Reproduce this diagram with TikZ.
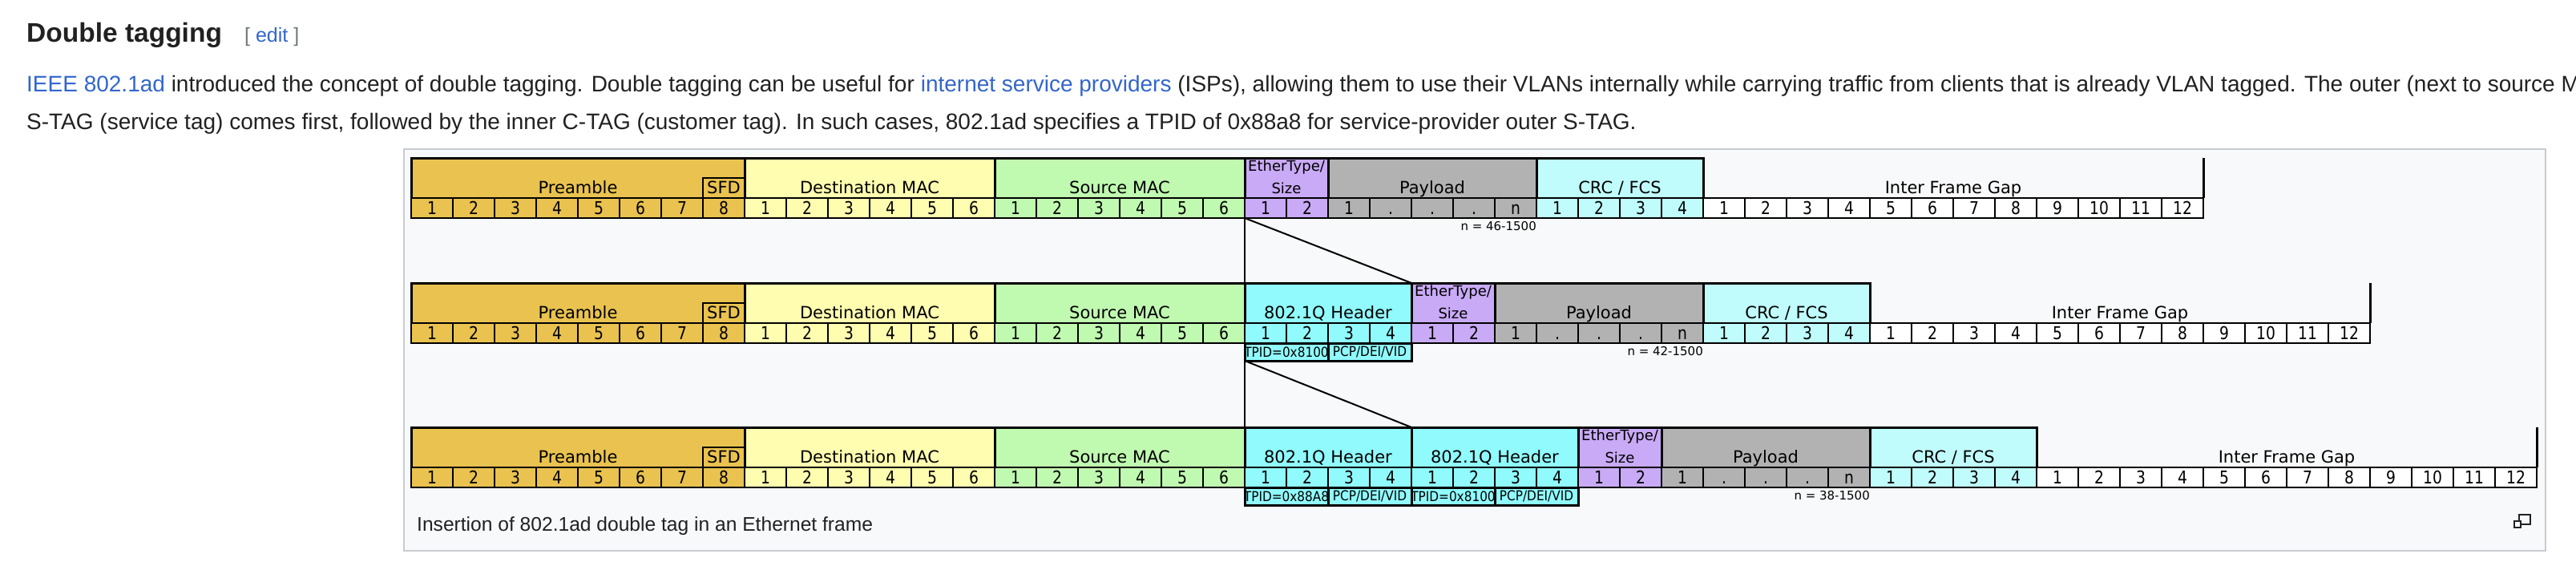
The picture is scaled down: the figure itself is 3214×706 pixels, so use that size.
\documentclass[tikz,border=0pt]{standalone}
\usepackage{fontspec}
\setmainfont{Liberation Sans}
\newfontfamily\dv{DejaVu Sans}
\definecolor{txt}{HTML}{202122}
\definecolor{link}{HTML}{3366CC}
\definecolor{brk}{HTML}{72777D}
\definecolor{framebg}{HTML}{F8F9FA}
\definecolor{frameln}{HTML}{C8CCD1}
\definecolor{precol}{HTML}{E9C24F}
\definecolor{dstcol}{HTML}{FFFDB0}
\definecolor{srccol}{HTML}{C0F9B0}
\definecolor{ethcol}{HTML}{C9AAF6}
\definecolor{paycol}{HTML}{B2B2B2}
\definecolor{crccol}{HTML}{C0FCFC}
\definecolor{qcol}{HTML}{90FAFC}
\newcommand\nd[1]{\scalebox{0.85}[1]{#1}}
\tikzset{
  hbox/.style={draw=black, line width=3pt, minimum height=50pt, inner sep=0pt, outer sep=0pt, anchor=north west},
  dbox/.style={draw=black, line width=2.5pt, minimum width=52pt, minimum height=25pt, inner sep=0pt, outer sep=0pt, anchor=north west, text height=16pt, text depth=0pt, font=\dv\fontsize{22}{22}\selectfont},
  lbl/.style={font=\dv\fontsize{21}{21}\selectfont, anchor=base, inner sep=0pt},
  elbl/.style={font=\dv\fontsize{18}{18}\selectfont, anchor=base, inner sep=0pt},
  sfdbox/.style={draw=black, line width=2.5pt, minimum width=52pt, minimum height=25pt, inner sep=0pt, outer sep=0pt, anchor=north west, fill=precol},
  subbox/.style={draw=none, minimum width=104pt, minimum height=22pt, inner sep=0pt, outer sep=0pt, anchor=north west, fill=qcol},
  subtxt/.style={inner sep=0pt, font=\dv\fontsize{17}{17}\selectfont},
  nlbl/.style={font=\dv\fontsize{15}{15}\selectfont, anchor=base east, inner sep=0pt},
  conn/.style={line width=2pt, draw=black},
  ptext/.style={anchor=base west, inner sep=0pt, text=txt, font=\fontsize{28}{28}\selectfont}
}
% #1 top y, #2 first cell, #3 number of cells, #4 fill, #5 label, #6 name, #7 digit labels
\newcommand\efield[7]{%
  \node[hbox, fill=#4, minimum width=#3*52pt] (#6) at ({513+#2*52},#1) {};
  \node[lbl] (#6-l) at ([yshift=6pt]#6.south) {#5};
  \foreach \d [count=\i from 0] in {#7} {
    \node[dbox, fill=#4] (#6-\i) at ({513+(#2+\i)*52},{#1+50}) {\nd{\d}};
  }
}
\newcommand\ethfield[3]{%
  \node[hbox, fill=ethcol, minimum width=104pt] (#3) at ({513+#2*52},#1) {};
  \node[elbl] (#3-a) at ([yshift=34pt]#3.south) {EtherType/};
  \node[elbl] (#3-b) at ([yshift=6pt]#3.south) {Size};
  \foreach \d [count=\i from 0] in {1,2} {
    \node[dbox, fill=ethcol] (#3-\i) at ({513+(#2+\i)*52},{#1+50}) {\nd{\d}};
  }
}
\newcommand\ifgfield[3]{%
  \node[hbox, draw=none, minimum width=624pt] (#3) at ({513+#2*52},#1) {};
  \draw[line width=3pt] (#3.north east) -- (#3.south east);
  \node[lbl] (#3-l) at ([yshift=6pt]#3.south) {Inter Frame Gap};
  \foreach \d [count=\i from 0] in {1,2,3,4,5,6,7,8,9,10,11,12} {
    \node[dbox, fill=white] (#3-\i) at ({513+(#2+\i)*52},{#1+50}) {\nd{\d}};
  }
}
\newcommand\prefield[2]{%
  \efield{#1}{0}{8}{precol}{Preamble}{#2}{1,2,3,4,5,6,7,8}
  \node[sfdbox] (#2-sfd) at ({513+7*52},{#1+25}) {};
  \node[lbl] (#2-sfdl) at ([yshift=6pt]#2-sfd.south) {SFD};
}
% #1 x, #2 y, #3 name, #4 text
\newcommand\subf[4]{%
  \node[subbox] (#3) at (#1,#2) {};
  \begin{scope}
    \clip (#3.south west) rectangle (#3.north east);
    \node[subtxt] (#3-t) at (#3.center) {\scalebox{0.9}[1]{#4}};
  \end{scope}
  \draw[line width=3pt] (#3.south west) rectangle (#3.north east);
}
\begin{document}
\begin{tikzpicture}[x=1pt,y=-1pt]
\useasboundingbox (0,0) rectangle (3214,706);
\clip (0,0) rectangle (3214,706);
\fill[white] (0,0) rectangle (3214,706);

% page text
\node[anchor=base west, inner sep=0pt, text=txt, font=\bfseries\fontsize{33.5}{33.5}\selectfont] (head) at (33,53) {Double tagging};
\node[anchor=base west, inner sep=0pt, font=\fontsize{25}{25}\selectfont] (edit) at (305,53) {\textcolor{brk}{[} \textcolor{link}{edit} \textcolor{brk}{]}};
\node[ptext] (line1) at (33,115) {\textcolor{link}{IEEE 802.1ad} introduced the concept of double tagging. Double tagging can be useful for \textcolor{link}{internet service providers} (ISPs), allowing them to use their VLANs internally while carrying traffic from clients that is already VLAN tagged. The outer (next to source MAC};
\node[ptext] (line2) at (33,161) {S-TAG (service tag) comes first, followed by the inner C-TAG (customer tag). In such cases, 802.1ad specifies a TPID of 0x88a8 for service-provider outer S-TAG.};

% figure frame
\draw[fill=framebg, draw=frameln, line width=2pt] (504,186) rectangle (3176,687);

% row 1
\prefield{197}{r1pre}
\efield{197}{8}{6}{dstcol}{Destination MAC}{r1dst}{1,2,3,4,5,6}
\efield{197}{14}{6}{srccol}{Source MAC}{r1src}{1,2,3,4,5,6}
\ethfield{197}{20}{r1eth}
\efield{197}{22}{5}{paycol}{Payload}{r1pay}{1,.,.,.,n}
\efield{197}{27}{4}{crccol}{CRC / FCS}{r1crc}{1,2,3,4}
\ifgfield{197}{31}{r1ifg}
\node[nlbl] (r1n) at ([yshift=-15pt]r1pay-4.south east) {n = 46-1500};

% row 2
\prefield{353}{r2pre}
\efield{353}{8}{6}{dstcol}{Destination MAC}{r2dst}{1,2,3,4,5,6}
\efield{353}{14}{6}{srccol}{Source MAC}{r2src}{1,2,3,4,5,6}
\efield{353}{20}{4}{qcol}{802.1Q Header}{r2q}{1,2,3,4}
\ethfield{353}{24}{r2eth}
\efield{353}{26}{5}{paycol}{Payload}{r2pay}{1,.,.,.,n}
\efield{353}{31}{4}{crccol}{CRC / FCS}{r2crc}{1,2,3,4}
\ifgfield{353}{35}{r2ifg}
\subf{{513+20*52}}{428}{r2tpid}{TPID=0x8100}
\subf{{513+22*52}}{428}{r2pcp}{PCP/DEI/VID}
\node[nlbl] (r2n) at ([yshift=-15pt]r2pay-4.south east) {n = 42-1500};

% row 3
\prefield{533}{r3pre}
\efield{533}{8}{6}{dstcol}{Destination MAC}{r3dst}{1,2,3,4,5,6}
\efield{533}{14}{6}{srccol}{Source MAC}{r3src}{1,2,3,4,5,6}
\efield{533}{20}{4}{qcol}{802.1Q Header}{r3qa}{1,2,3,4}
\efield{533}{24}{4}{qcol}{802.1Q Header}{r3qb}{1,2,3,4}
\ethfield{533}{28}{r3eth}
\efield{533}{30}{5}{paycol}{Payload}{r3pay}{1,.,.,.,n}
\efield{533}{35}{4}{crccol}{CRC / FCS}{r3crc}{1,2,3,4}
\ifgfield{533}{39}{r3ifg}
\subf{{513+20*52}}{608}{r3tpida}{TPID=0x88A8}
\subf{{513+22*52}}{608}{r3pcpa}{PCP/DEI/VID}
\subf{{513+24*52}}{608}{r3tpidb}{TPID=0x8100}
\subf{{513+26*52}}{608}{r3pcpb}{PCP/DEI/VID}
\node[nlbl] (r3n) at ([yshift=-15pt]r3pay-4.south east) {n = 38-1500};

% connectors
\draw[conn] (r1eth-0.south west) -- (r2q.north west);
\draw[conn] (r1eth-0.south west) -- (r2eth.north west);
\draw[conn] (r2tpid.south west) -- (r3qa.north west);
\draw[conn] (r2tpid.south west) -- (r3qb.north west);

% caption
\node[anchor=base west, inner sep=0pt, text=txt, font=\fontsize{24.6}{24.6}\selectfont] (cap) at (520,662) {Insertion of 802.1ad double tag in an Ethernet frame};

% enlarge icon
\draw[line width=1.5pt, draw=txt] (3143,642) rectangle (3157,654);
\draw[line width=1.5pt, draw=txt, fill=framebg] (3137,650) rectangle (3145,658);
\end{tikzpicture}
\end{document}
